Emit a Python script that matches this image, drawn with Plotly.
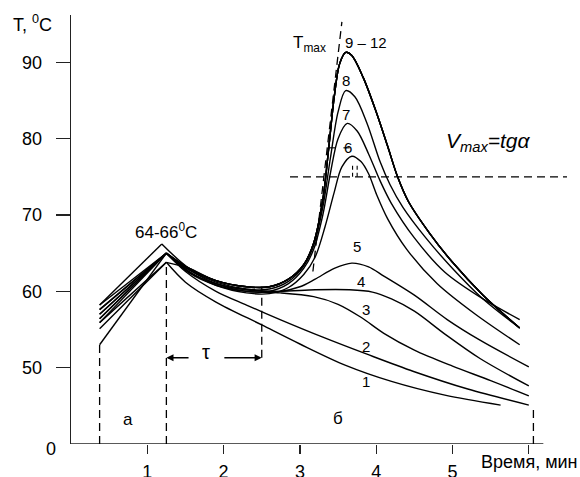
import plotly.graph_objects as go

FONT = "Arial, Liberation Sans, sans-serif"

# ---------------- data (time in min, temperature in deg C) ----------------
x_start = 0.375
x_apex = 1.25

# start temperatures and apex temperatures of curves 1..12
start_y = [55.1, 53.0, 56.4, 55.9, 57.0, 57.6, 58.2, 56.4, 58.2, 57.6, 57.0, 55.9]
apex_x = [1.25, 1.25, 1.25, 1.25, 1.25, 1.25, 1.25, 1.25, 1.19, 1.25, 1.25, 1.25]
apex_y = [63.8, 65.0, 65.0, 65.0, 65.0, 65.0, 65.0, 65.0, 66.2, 65.0, 65.0, 63.8]

c1_x = [1.5, 1.9, 2.5, 3.0, 3.6, 4.2, 4.9, 5.63]
c1_y = [61.2, 58.6, 55.6, 53.1, 50.3, 48.2, 46.4, 45.1]

c2_x = [1.5, 1.9, 2.3, 2.74, 3.3, 3.87, 4.49, 5.2, 6.0]
c2_y = [62.6, 60.0, 58.2, 56.3, 54.0, 51.8, 49.5, 47.2, 45.1]

c3_x = [1.55, 1.9, 2.3, 2.74, 3.18, 3.5, 3.8, 4.1, 4.5, 5.0, 5.5, 6.0]
c3_y = [62.4, 60.8, 60.0, 59.8, 59.3, 58.3, 56.6, 54.5, 52.3, 50.2, 48.3, 46.3]

c4_x = [1.55, 1.9, 2.3, 2.74, 3.2, 3.65, 3.95, 4.2, 4.5, 4.9, 5.36, 6.0]
c4_y = [62.5, 61.0, 60.2, 60.0, 60.2, 60.2, 59.9, 59.0, 57.4, 54.4, 51.2, 47.6]

c5_x = [1.55, 1.9, 2.3, 2.74, 3.0, 3.2, 3.45, 3.68, 3.9, 4.1, 4.5, 4.93, 5.36, 6.0]
c5_y = [62.5, 61.0, 60.2, 60.0, 60.6, 61.6, 63.0, 63.7, 63.2, 62.0, 59.5, 56.3, 53.6, 50.1]

c6_x = [1.55, 1.9, 2.3, 2.6, 2.85, 3.05, 3.2, 3.33, 3.45, 3.55, 3.68, 3.8, 3.9, 4.0, 4.15, 4.4, 4.8, 5.3, 5.88]
c6_y = [62.6, 60.8, 59.8, 59.7, 60.5, 62.2, 64.5, 68.5, 73.0, 76.3, 77.7, 77.0, 75.4, 72.8, 69.5, 65.5, 61.0, 57.0, 53.0]

c7_x = [1.55, 1.9, 2.3, 2.6, 2.85, 3.05, 3.18, 3.3, 3.4, 3.5, 3.62, 3.75, 3.9, 4.05, 4.2, 4.5, 4.9, 5.4, 5.88]
c7_y = [62.8, 61.0, 60.0, 60.0, 61.0, 63.0, 65.5, 70.0, 75.5, 80.0, 82.0, 81.0, 78.0, 74.5, 71.5, 67.0, 62.5, 59.0, 56.3]

c8_x = [1.55, 1.9, 2.3, 2.6, 2.85, 3.05, 3.18, 3.3, 3.4, 3.5, 3.6, 3.72, 3.88, 4.05, 4.18, 4.35, 4.65, 5.0, 5.4, 5.88]
c8_y = [62.8, 61.2, 60.3, 60.3, 61.3, 63.3, 66.0, 71.0, 77.5, 83.5, 86.3, 85.5, 82.0, 77.0, 74.0, 71.0, 67.0, 63.0, 59.0, 55.2]

c9_12_x = [1.55, 1.9, 2.3, 2.6, 2.85, 3.05, 3.18, 3.3, 3.38, 3.45, 3.52, 3.6, 3.68, 3.83, 4.0, 4.15, 4.28, 4.42, 4.7, 5.0, 5.4, 5.88]
c9_12_y = [63.0, 61.4, 60.6, 60.6, 61.6, 63.5, 66.3, 72.0, 79.0, 85.5, 89.8, 91.3, 90.9, 88.0, 83.5, 79.0, 75.0, 71.8, 67.6, 63.8, 59.5, 55.2]

tails_x = [c1_x, c2_x, c3_x, c4_x, c5_x, c6_x, c7_x, c8_x, c9_12_x, c9_12_x, c9_12_x, c9_12_x]
tails_y = [c1_y, c2_y, c3_y, c4_y, c5_y, c6_y, c7_y, c8_y, c9_12_y, c9_12_y, c9_12_y, c9_12_y]

# guide lines
t_tau_end = 2.5
tau_level = 51.3
t_end = 6.06
v_level = 75.0
tmax_line_x = [3.17, 3.55]
tmax_line_y = [62.6, 95.3]

x_ticks = [1, 2, 3, 4, 5, 6]
x_ticktext = ["1", "2", "3", "4", "5", ""]
y_ticks = [50, 60, 70, 80, 90]

# ---------------- figure ----------------
fig = go.Figure()
LW = 1.4
for i in range(12):
    fig.add_trace(go.Scatter(x=[x_start, apex_x[i]], y=[start_y[i], apex_y[i]], mode="lines",
                             line=dict(color="black", width=LW), hoverinfo="skip", showlegend=False))
    fig.add_trace(go.Scatter(x=[apex_x[i]] + tails_x[i], y=[apex_y[i]] + tails_y[i], mode="lines",
                             line=dict(color="black", width=LW, shape="spline", smoothing=0.9),
                             hoverinfo="skip", showlegend=False))

DASH = dict(color="black", width=1.3, dash="8px,5px")
shapes = [
    # x axis line
    dict(type="line", xref="x", yref="y", x0=0, x1=6.19, y0=40, y1=40, line=dict(color="#222", width=1.4)),
    dict(type="line", xref="x", yref="y", x0=x_start, x1=x_start, y0=40, y1=min(start_y), line=DASH),
    dict(type="line", xref="x", yref="y", x0=x_apex, x1=x_apex, y0=40, y1=63.8, line=DASH),
    dict(type="line", xref="x", yref="y", x0=t_tau_end, x1=t_tau_end, y0=tau_level, y1=60.6, line=DASH),
    dict(type="line", xref="x", yref="y", x0=t_end, x1=t_end, y0=40, y1=45.0, line=DASH),
    dict(type="line", xref="x", yref="y", x0=2.87, x1=6.5, y0=v_level, y1=v_level, line=DASH),
    dict(type="line", xref="x", yref="y", x0=tmax_line_x[0], x1=tmax_line_x[1], y0=tmax_line_y[0], y1=tmax_line_y[1], line=DASH),
    # small tangent marks near curve 6
    dict(type="line", xref="x", yref="y", x0=3.37, x1=3.47, y0=78.8, y1=78.8, line=dict(color="black", width=1.1)),
    dict(type="line", xref="x", yref="y", x0=3.37, x1=3.37, y0=78.1, y1=78.8, line=dict(color="black", width=1.1)),
    dict(type="line", xref="x", yref="y", x0=3.57, x1=3.65, y0=78.8, y1=78.8, line=dict(color="black", width=1.1)),
    dict(type="line", xref="x", yref="y", x0=3.69, x1=3.69, y0=75.0, y1=76.8, line=dict(color="black", width=1.1, dash="4px,3px")),
    dict(type="line", xref="x", yref="y", x0=3.75, x1=3.75, y0=75.0, y1=76.5, line=dict(color="black", width=1.1, dash="4px,3px")),
]

ann = []
def txt(x, y, s, size=15, ref="data", **kw):
    r = "paper" if ref == "paper" else None
    d = dict(x=x, y=y, xref=r or "x", yref=r or "y", text=s, showarrow=False,
             xanchor="center", yanchor="middle",
             font=dict(family=FONT, size=size, color="black"))
    d.update(kw)
    ann.append(d)

PW, PH, L, T = 504, 429, 71, 15  # plot area size and offsets in px
def px(xp, yp):
    return (xp - L) / PW, 1 - (yp - T) / PH

txt(*px(32, 23), "T, <sup>0</sup>C", 18, ref="paper")
txt(*px(50.5, 449), "0", 18, ref="paper")
txt(*px(580, 462), "Время, мин", 18, ref="paper", xanchor="right")
txt(3.37, 92.4, "T<sub>max</sub>", 17, xanchor="right")
txt(3.87, 92.6, "9 – 12", 15)
txt(3.61, 87.6, "8", 15)
txt(3.61, 83.2, "7", 15)
txt(3.63, 78.9, "6", 15)
txt(3.75, 65.9, "5", 15)
txt(3.80, 61.35, "4", 15)
txt(3.87, 57.6, "3", 15)
txt(3.87, 52.8, "2", 15)
txt(3.87, 48.25, "1", 15)
txt(0.75, 43.2, "а", 17)
txt(3.50, 43.35, "б", 17)
txt(1.245, 67.9, "64-66<sup>0</sup>C", 17)
txt(1.77, 52.1, "τ", 20)
txt(5.47, 79.55, "<i>V<sub>max</sub>=tgα</i>", 21)

# tau arrows
for head, tail in [(x_apex, 1.56), (t_tau_end, 1.99)]:
    ann.append(dict(x=head, y=tau_level, ax=tail, ay=tau_level, xref="x", yref="y", axref="x", ayref="y",
                    text="", showarrow=True, arrowhead=2, arrowsize=1.1, arrowwidth=1.3, arrowcolor="black"))

fig.update_layout(
    width=580, height=477,
    margin=dict(l=L, r=580 - L - PW, t=T, b=477 - T - PH),
    paper_bgcolor="white", plot_bgcolor="white",
    showlegend=False,
    shapes=shapes, annotations=ann,
    font=dict(family=FONT, size=18, color="black"),
    xaxis=dict(range=[0, 6.605], tickvals=x_ticks, ticktext=x_ticktext, ticks="outside", ticklen=9,
               tickwidth=1.3, tickcolor="#222", showline=False, showgrid=False, zeroline=False,
               tickfont=dict(family=FONT, size=18), automargin=False, ticklabelstandoff=2, fixedrange=True),
    yaxis=dict(range=[40, 96.2], tickvals=y_ticks, ticks="outside", ticklen=14, tickwidth=1.3,
               tickcolor="#222", showline=True, linecolor="#222", linewidth=1.4, showgrid=False,
               zeroline=False, tickfont=dict(family=FONT, size=18), automargin=False,
               ticklabelstandoff=10, fixedrange=True),
)

# remove the browser's default 8px body margin so the figure sits at the page origin
fig.write_html("out.html", config={"displayModeBar": False, "staticPlot": True},
               post_script="document.body.style.margin='0';document.body.style.overflow='hidden';")
